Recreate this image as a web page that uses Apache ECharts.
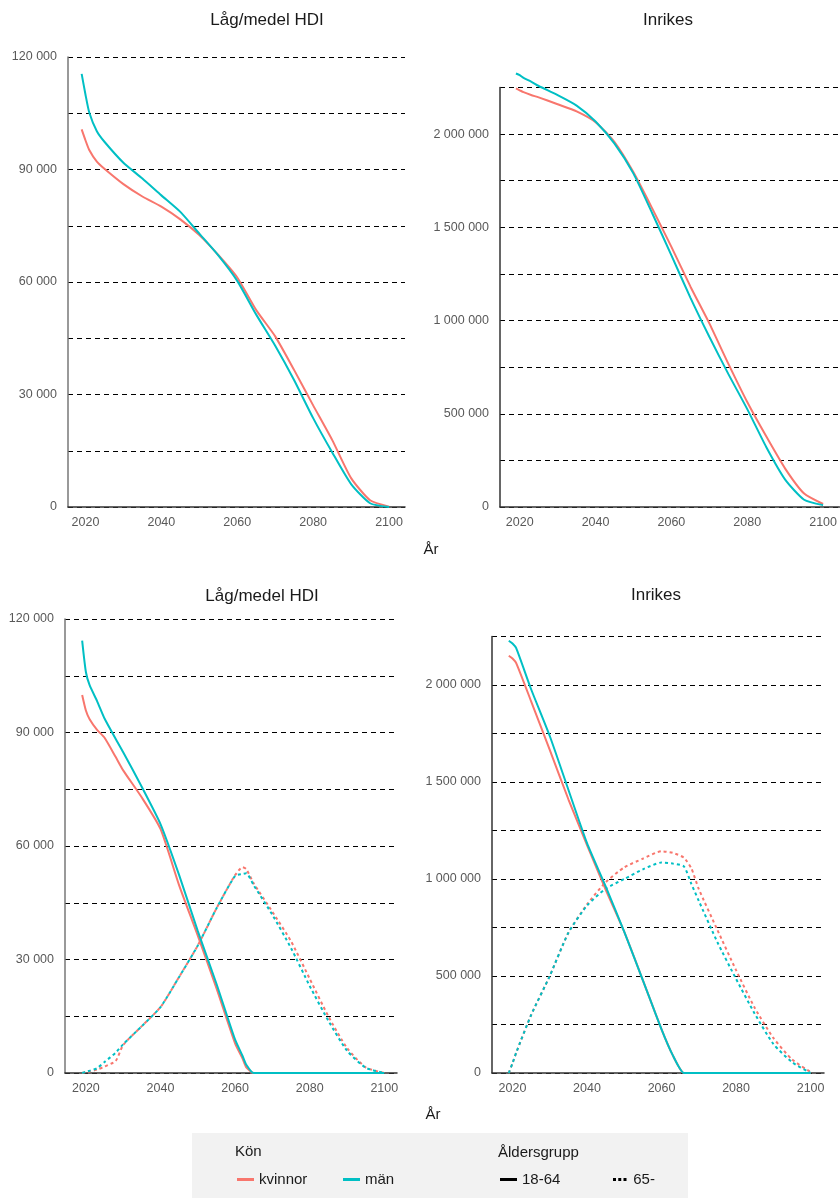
<!DOCTYPE html>
<html>
<head>
<meta charset="utf-8">
<script src="https://cdn.jsdelivr.net/npm/echarts@6/dist/echarts.min.js"></script>
<style>
html, body { margin: 0; padding: 0; background: #fff; }
#chart { width: 840px; height: 1198px; }
</style>
</head>
<body>
<div id="chart"></div>
<script>
// data
const xTicks = [2020, 2040, 2060, 2080, 2100];

// top row: all ages, by sex
const yearsTop = [2019, 2020, 2021, 2023, 2025, 2030, 2035, 2040, 2045, 2050, 2055, 2060, 2065, 2070, 2075, 2080, 2085, 2090, 2095, 2100];
const lagKvinnor = [100700, 97800, 95200, 92100, 90200, 86100, 82800, 80100, 76700, 72500, 67200, 61200, 52500, 45500, 36500, 27100, 17900, 7700, 1800, 100];
const lagMan = [115500, 110000, 105200, 100200, 97400, 91800, 87600, 83100, 78700, 72900, 67100, 60300, 51300, 43000, 33800, 23700, 14600, 6100, 1000, 0];
const inrKvinnor = [2245000, 2235000, 2225000, 2210000, 2197000, 2160000, 2122000, 2064000, 1957000, 1795000, 1599000, 1395000, 1183000, 985000, 769000, 563000, 379000, 206000, 72000, 16000];
const inrMan = [2325000, 2316000, 2302000, 2282000, 2258000, 2209000, 2153000, 2068000, 1949000, 1788000, 1573000, 1350000, 1123000, 913000, 714000, 525000, 322000, 147000, 39000, 10000];

// bottom left: Låg/medel HDI by age group
const yearsLag = [2019, 2020, 2021, 2023, 2025, 2028, 2030, 2035, 2040, 2045, 2050, 2055, 2060, 2062, 2063, 2065, 2070, 2075, 2080, 2085, 2090, 2095, 2100];
const lagKvinnor1864 = [99900, 95800, 93500, 90700, 88600, 83500, 80000, 72800, 64500, 49600, 36300, 22400, 7800, 3800, 1500, 0, 0, 0, 0, 0, 0, 0, 0];
const lagMan1864 = [114300, 106000, 102500, 98300, 93700, 88300, 84800, 75600, 65800, 52300, 37500, 23600, 8800, 4500, 2200, 0, 0, 0, 0, 0, 0, 0, 0];
const lagKvinnor65 = [0, 200, 400, 900, 1700, 3200, 7400, 12400, 17400, 25400, 33700, 43500, 52300, 54400, 53900, 50100, 42600, 34800, 24900, 15000, 6600, 1500, 0];
const lagMan65 = [0, 300, 600, 1250, 2900, 5400, 7600, 12400, 17400, 25400, 33700, 43500, 52100, 52600, 52800, 49600, 41800, 33000, 23000, 13800, 5900, 1400, 0];

// bottom right: Inrikes by age group
const yearsInr = [2019, 2020, 2021, 2025, 2030, 2035, 2040, 2045, 2050, 2055, 2060, 2063, 2066, 2068, 2070, 2075, 2080, 2085, 2090, 2095, 2100];
const inrKvinnor1864 = [2151000, 2137000, 2113000, 1916000, 1666000, 1411000, 1175000, 945000, 727000, 478000, 225000, 92000, 0, 0, 0, 0, 0, 0, 0, 0, 0];
const inrMan1864 = [2228000, 2214000, 2190000, 1978000, 1737000, 1460000, 1185000, 962000, 727000, 478000, 225000, 92000, 0, 0, 0, 0, 0, 0, 0, 0, 0];
const inrKvinnor65 = [0, 50000, 105000, 299000, 500000, 723000, 869000, 983000, 1060000, 1105000, 1143000, 1135000, 1110000, 1055000, 948000, 737000, 530000, 336000, 181000, 70000, 5000];
const inrMan65 = [0, 50000, 105000, 299000, 500000, 723000, 863000, 950000, 1000000, 1050000, 1085000, 1080000, 1065000, 975000, 887000, 674000, 485000, 306000, 150000, 56000, 0];

const RED = '#F8766D';
const CYAN = '#00BFC4';
const FONT = '"Liberation Sans", Arial, sans-serif';

const fmt = v => String(v).replace(/\B(?=(\d{3})+(?!\d))/g, ' ');

function line(name, gi, years, values, color, dashed) {
  return {
    name: name,
    type: 'line',
    xAxisIndex: gi,
    yAxisIndex: gi,
    data: years.map((y, i) => [y, values[i]]),
    showSymbol: false,
    symbol: 'none',
    smooth: 0.2,
    clip: false,
    silent: true,
    itemStyle: { color: color },
    lineStyle: { color: color, width: 2, type: dashed ? [3, 3] : 'solid' }
  };
}

function xAx(gi, min, max) {
  return {
    type: 'value',
    gridIndex: gi,
    min: min,
    max: max,
    axisLine: { lineStyle: { color: '#333', width: 1.5 } },
    axisTick: { show: false },
    splitLine: { show: false },
    axisLabel: {
      customValues: xTicks,
      formatter: v => String(v),
      color: '#595959', fontSize: 12.5, margin: 9, fontFamily: FONT
    }
  };
}

function yAx(gi, max, step, labelStep, axisColor) {
  return {
    type: 'value',
    gridIndex: gi,
    min: 0,
    max: max,
    interval: step,
    axisLine: { show: true, lineStyle: { color: axisColor, width: 1.5 } },
    axisTick: { show: false },
    splitLine: { show: true, lineStyle: { color: '#000', type: [5, 4], width: 1 } },
    axisLabel: {
      formatter: v => (v % labelStep === 0 ? fmt(v) : ''),
      color: '#595959', fontSize: 12.5, margin: 11, fontFamily: FONT
    }
  };
}

function txt(x, y, text, size, align) {
  return {
    type: 'text', x: x, y: y, z: 10,
    style: { text: text, fill: '#1a1a1a', font: size + 'px ' + FONT, align: align || 'center', verticalAlign: 'middle' }
  };
}

function leg(name, left, icon) {
  return {
    data: [name], left: left, top: 1172, padding: 0, selectedMode: false,
    itemWidth: 17, itemHeight: 3, icon: icon,
    textStyle: { fontSize: 15, color: '#1a1a1a', fontFamily: FONT }
  };
}

const chart = echarts.init(document.getElementById('chart'));
chart.setOption({
  animation: false,
  textStyle: { fontFamily: FONT },
  grid: [
    { left: 68, top: 57, width: 337, height: 450 },
    { left: 500, top: 87.5, width: 340, height: 419.5 },
    { left: 65, top: 619, width: 332, height: 454 },
    { left: 492, top: 636.5, width: 332, height: 436.5 }
  ],
  xAxis: [
    xAx(0, 2015.4, 2104.2),
    xAx(1, 2014.8, 2104.3),
    xAx(2, 2014.4, 2103.4),
    xAx(3, 2014.5, 2103.6)
  ],
  yAxis: [
    yAx(0, 120000, 15000, 30000, '#777'),
    yAx(1, 2250000, 250000, 500000, '#333'),
    yAx(2, 120000, 15000, 30000, '#777'),
    yAx(3, 2250000, 250000, 500000, '#333')
  ],
  legend: [
    leg('kvinnor', 237, 'rect'),
    leg('män', 343, 'rect'),
    leg('18-64', 500, 'rect'),
    leg('65-', 613, 'path://M0,0H4V4H0Z M7,0H11V4H7Z M14,0H18V4H14Z')
  ],
  graphic: [
    { type: 'rect', z: 0, shape: { x: 192, y: 1133, width: 496, height: 65 }, style: { fill: '#f2f2f2' } },
    txt(267, 20, 'Låg/medel HDI', 17),
    txt(668, 20, 'Inrikes', 17),
    txt(262, 596, 'Låg/medel HDI', 17),
    txt(656, 595, 'Inrikes', 17),
    txt(431, 550, 'År', 15),
    txt(433, 1115, 'År', 15),
    txt(235, 1152, 'Kön', 15, 'left'),
    txt(498, 1153, 'Åldersgrupp', 15, 'left')
  ],
  series: [
    line('kvinnor', 0, [], [], RED, false),
    line('män', 0, [], [], CYAN, false),
    line('18-64', 0, [], [], '#000', false),
    line('65-', 0, [], [], '#000', true),

    line('Låg kvinnor', 0, yearsTop, lagKvinnor, RED, false),
    line('Låg män', 0, yearsTop, lagMan, CYAN, false),
    line('Inr kvinnor', 1, yearsTop, inrKvinnor, RED, false),
    line('Inr män', 1, yearsTop, inrMan, CYAN, false),

    line('Låg kvinnor 65-', 2, yearsLag, lagKvinnor65, RED, true),
    line('Låg män 65-', 2, yearsLag, lagMan65, CYAN, true),
    line('Låg kvinnor 18-64', 2, yearsLag, lagKvinnor1864, RED, false),
    line('Låg män 18-64', 2, yearsLag, lagMan1864, CYAN, false),

    line('Inr kvinnor 65-', 3, yearsInr, inrKvinnor65, RED, true),
    line('Inr män 65-', 3, yearsInr, inrMan65, CYAN, true),
    line('Inr kvinnor 18-64', 3, yearsInr, inrKvinnor1864, RED, false),
    line('Inr män 18-64', 3, yearsInr, inrMan1864, CYAN, false)
  ]
});
</script>
</body>
</html>
